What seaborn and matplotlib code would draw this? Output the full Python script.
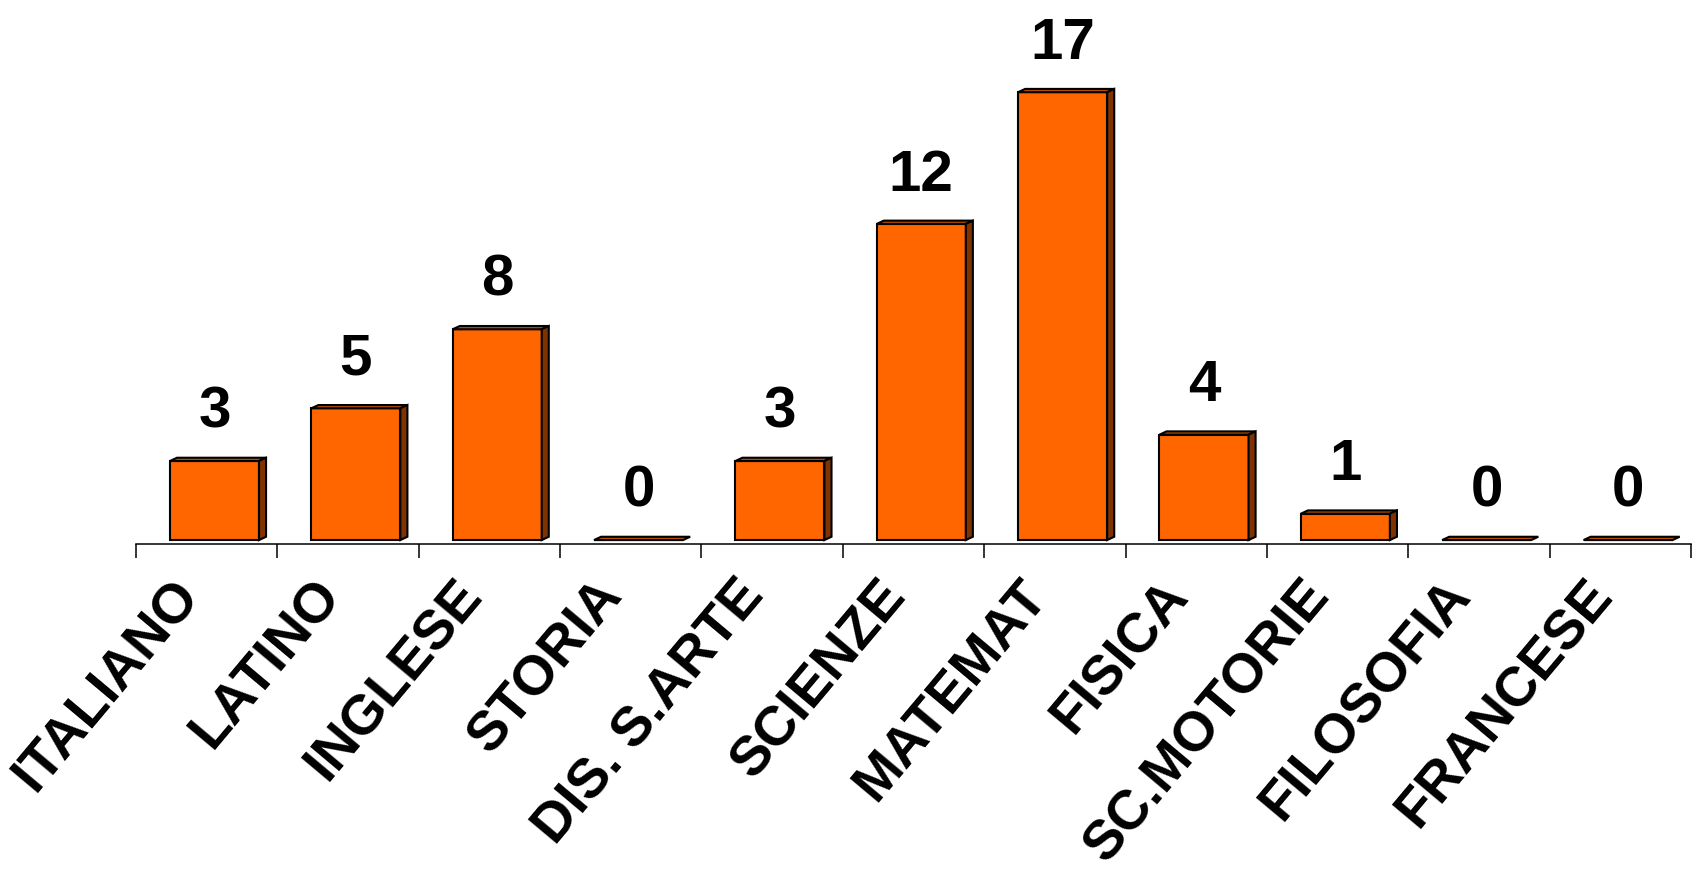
import numpy as np
import seaborn as sns
import matplotlib.pyplot as plt
import matplotlib.transforms as mtransforms
from matplotlib.patches import Polygon

subjects = ["ITALIANO", "LATINO", "INGLESE", "STORIA", "DIS. S.ARTE", "SCIENZE",
            "MATEMAT", "FISICA", "SC.MOTORIE", "FILOSOFIA", "FRANCESE"]
counts = [3, 5, 8, 0, 3, 12, 17, 4, 1, 0, 0]

sns.set_style("white")
plt.rcParams["font.family"] = ["Liberation Sans", "DejaVu Sans"]
plt.rcParams["text.color"] = "black"
plt.rcParams["xtick.color"] = "black"

front_color = "#FF6600"
top_color = "#B84A00"
side_color = "#7F3300"

fig = plt.figure(figsize=(16.93, 8.74), dpi=100)
ax = fig.add_axes([136 / 1693, 330 / 874, 1555 / 1693, 1 - 330 / 874])

sns.barplot(x=subjects, y=counts, color=front_color, saturation=1,
            width=0.63, edgecolor="black", linewidth=1.5, ax=ax, zorder=3)

ax.set_xlim(-0.5, len(subjects) - 0.5)
ax.set_ylim(-0.15, 20.5)

# fake 3d depth
dx, dy = 0.05, 0.125
for patch, v in zip(ax.patches, counts):
    patch.set_x(patch.get_x() + 0.055)
    x0 = patch.get_x()
    x1 = x0 + patch.get_width()
    top = Polygon([(x0, v), (x0 + dx, v + dy), (x1 + dx, v + dy), (x1, v)],
                  closed=True, facecolor=top_color, edgecolor="black",
                  linewidth=1.5, zorder=3)
    ax.add_patch(top)
    if v > 0:
        side = Polygon([(x1, 0), (x1, v), (x1 + dx, v + dy), (x1 + dx, dy)],
                       closed=True, facecolor=side_color, edgecolor="black",
                       linewidth=1.5, zorder=3)
        ax.add_patch(side)
    ax.annotate(str(v), xy=((x0 + x1) / 2, v), xytext=(0, 24),
                textcoords="offset points", ha="center", va="baseline",
                fontsize=42, fontweight="bold", color="black")

for s in ["top", "right", "left"]:
    ax.spines[s].set_visible(False)
ax.spines["bottom"].set_linewidth(1.1)
ax.spines["bottom"].set_color("black")
ax.set_yticks([])
ax.set_xlabel("")
ax.set_ylabel("")

ax.set_xticks(np.arange(len(subjects)))
ax.set_xticks(np.arange(len(subjects) + 1) - 0.5, minor=True)
ax.tick_params(axis="x", which="major", bottom=False, length=0, pad=31)
ax.tick_params(axis="x", which="minor", bottom=True, length=10, width=1.1,
               color="black", direction="out")
ax.set_xticklabels(subjects, fontsize=40, fontweight="bold", rotation=50,
                   ha="right", va="center", rotation_mode="anchor",
                   color="black")
offset = mtransforms.ScaledTranslation(-17 / 100, 0, fig.dpi_scale_trans)
for lbl in ax.get_xticklabels():
    lbl.set_transform(lbl.get_transform() + offset)

fig.savefig("out.png", dpi=100)
